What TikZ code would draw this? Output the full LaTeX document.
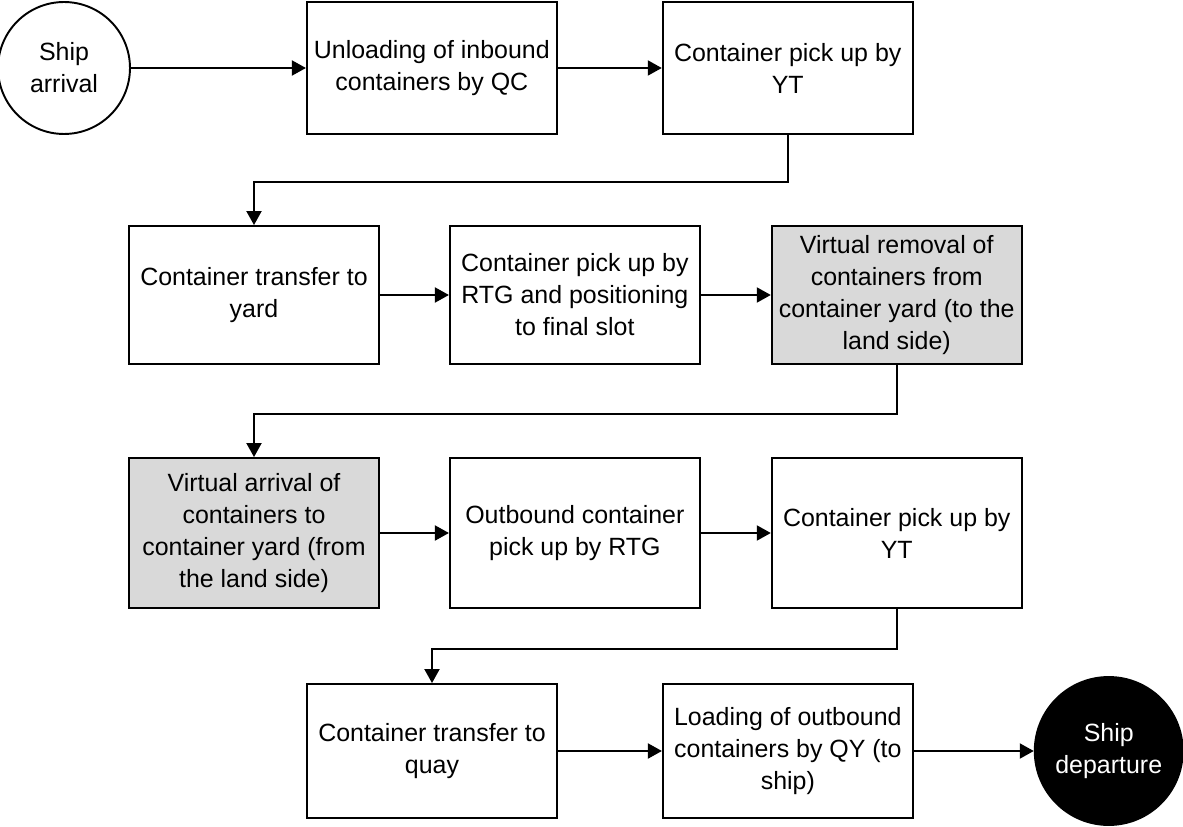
\documentclass[tikz,border=0pt]{standalone}
\usepackage{fontspec}
\setmainfont{Liberation Sans}
\usepackage{tikz}
\usetikzlibrary{positioning,arrows.meta,calc}
\definecolor{virtgray}{RGB}{217,217,217}

\begin{document}
\begin{tikzpicture}[x=0.02cm, y=-0.02cm, line width=1.1pt,
  >={Triangle[length=0.28cm, width=0.3cm]},
  box/.style={draw, align=center, font=\fontsize{14.2}{18.2}\selectfont,
              inner sep=2pt, minimum width=5cm},
  event/.style={draw, circle, align=center, font=\fontsize{14.2}{18.2}\selectfont,
                inner sep=0pt}]
  \useasboundingbox (0,0) rectangle (1183,827);
  % quay side: ship comes in
  \node[event, minimum size=2.64cm] (arrival) at (64,68) {Ship\\arrival};
  \node[box, minimum height=2.64cm, right=3.5cm of arrival] (unload) {Unloading of inbound\\containers by QC};
  \node[box, minimum height=2.64cm, right=2.08cm of unload]  (pickyt) {Container pick up by\\YT};
  % yard, inbound
  \node[box, minimum height=2.76cm] (transfer) at (254,295) {Container transfer to\\yard};
  \node[box, minimum height=2.76cm, right=1.38cm of transfer] (rtgslot) {Container pick up by\\RTG and positioning\\to final slot};
  \node[box, minimum height=2.76cm, fill=virtgray, right=1.4cm of rtgslot] (vremove) {Virtual removal of\\containers from\\container yard (to the\\land side)};
  % yard, outbound
  \node[box, minimum height=3cm, fill=virtgray] (varrive) at (254,533) {Virtual arrival of\\containers to\\container yard (from\\the land side)};
  \node[box, minimum height=3cm, right=1.38cm of varrive] (rtgout)  {Outbound container\\pick up by RTG};
  \node[box, minimum height=3cm, right=1.4cm of rtgout]  (pickyt2) {Container pick up by\\YT};
  % back to quay: ship leaves
  \node[box, minimum height=2.68cm] (quay) at (432,751) {Container transfer to\\quay};
  \node[box, minimum height=2.68cm, right=2.08cm of quay] (loadqy) {Loading of outbound\\containers by QY (to\\ship)};
  \node[event, minimum size=2.96cm, fill=black, text=white, right=2.4cm of loadqy] (depart) {Ship\\departure};

  \draw[->] (arrival) -- (unload);
  \draw[->] (unload) -- (pickyt);
  \draw[->] (pickyt.south) -- ++(0,47) -| (transfer.north);
  \draw[->] (transfer) -- (rtgslot);
  \draw[->] (rtgslot) -- (vremove);
  \draw[->] (vremove.south) -- ++(0,49) -| (varrive.north);
  \draw[->] (varrive) -- (rtgout);
  \draw[->] (rtgout) -- (pickyt2);
  \draw[->] (pickyt2.south) -- ++(0,40) -| (quay.north);
  \draw[->] (quay) -- (loadqy);
  \draw[->] (loadqy) -- (depart);
\end{tikzpicture}
\end{document}
